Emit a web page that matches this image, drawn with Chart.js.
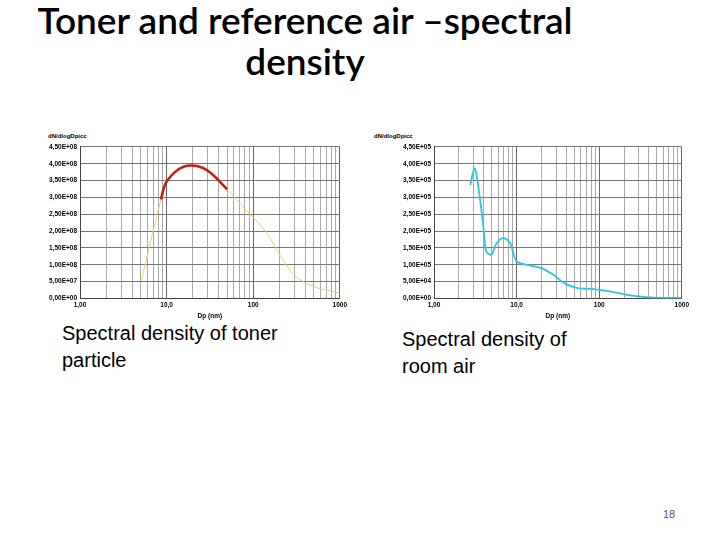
<!DOCTYPE html>
<html><head>
<script src="https://cdn.jsdelivr.net/npm/chart.js@4"></script>
<style>
body{margin:0;width:720px;height:540px;background:#fff;position:relative;overflow:hidden;font-family:"Liberation Sans",Arial,sans-serif}
.t{position:absolute;white-space:nowrap}
#title{left:0;width:610px;top:-1px;text-align:center;font-family:Lato,"Open Sans",sans-serif;font-size:37px;line-height:41px;font-weight:600}
canvas{position:absolute}
.cap{font-size:20px;line-height:27px}
.yt{font-size:6px;font-weight:bold}
</style></head><body>
<div id="title" class="t">Toner and reference air –spectral<br>density</div>
<div class="t yt" style="left:48px;top:133px">dN/dlogDpicc</div>
<div class="t yt" style="left:374px;top:133px">dN/dlogDpicc</div>
<div style="position:absolute;left:46px;top:140px;width:304px;height:180px"><canvas id="c1"></canvas></div>
<div style="position:absolute;left:400px;top:140px;width:292px;height:180px"><canvas id="c2"></canvas></div>
<div class="t cap" style="left:62px;top:320px">Spectral density of toner<br>particle</div>
<div class="t cap" style="left:402px;top:326px">Spectral density of<br>room air</div>
<div class="t" style="left:663px;top:508px;font-size:11px;color:#555">18</div>
<script>
const tonerDp = [5.1, 8.6, 9.8, 14, 19, 26, 34, 50, 81, 138, 278, 473, 1000];
const tonerN = [0.52e8, 2.94e8, 3.43e8, 3.85e8, 3.95e8, 3.88e8, 3.68e8, 3.24e8, 2.65e8, 2.0e8, 0.77e8, 0.37e8, 0.16e8];
const fitDp = [8.6, 9.8, 14, 19, 26, 34, 50];
const fitN = [2.94e8, 3.43e8, 3.85e8, 3.95e8, 3.88e8, 3.68e8, 3.24e8];
const airDp = [2.74, 3.12, 3.6, 3.94, 4.3, 4.97, 5.7, 6.9, 8.4, 10, 14.5, 20.2, 27.9, 38.6, 56, 81, 157, 250, 460, 1000];
const airN = [3.37e5, 3.86e5, 2.96e5, 2.17e5, 1.39e5, 1.30e5, 1.63e5, 1.80e5, 1.63e5, 1.10e5, 0.98e5, 0.90e5, 0.70e5, 0.44e5, 0.30e5, 0.28e5, 0.18e5, 0.08e5, 0.02e5, 0.01e5];
const xLabels = {1: "1,00", 10: "10,0", 100: "100", 1000: "1000"};

function pts(xs, ys) { return xs.map((x, i) => ({x: x, y: ys[i]})); }
function yLabel(v) {
  const e = Math.floor(Math.log10(v));
  const m = v / Math.pow(10, e);
  return m.toFixed(2).replace(".", ",") + "E+" + String(e).padStart(2, "0");
}
function makeChart(id, datasets, yStep) {
  new Chart(document.getElementById(id), {
    type: "line",
    data: {datasets: datasets},
    options: {
      animation: false, responsive: true, maintainAspectRatio: false,
      plugins: {legend: {display: false}, tooltip: {enabled: false}},
      elements: {point: {radius: 0}, line: {tension: 0.3}},
      scales: {
        x: {
          type: "logarithmic", min: 1, max: 1000,
          afterBuildTicks: ax => {
            const t = [];
            for (let d = 1; d < 1000; d *= 10) for (let k = 1; k < 10; k++) t.push({value: d * k});
            t.push({value: 1000});
            ax.ticks = t;
          },
          ticks: {autoSkip: false, maxRotation: 0, font: {size: 6.5, weight: "bold"}, color: "#000",
            callback: v => xLabels[v] || ""},
          grid: {color: ctx => xLabels[ctx.tick && ctx.tick.value] ? "#666" : "#aaa", drawTicks: false},
          border: {color: "#444"},
          title: {display: true, text: "Dp (nm)", font: {size: 6.5, weight: "bold"}, padding: 0, color: "#000"}
        },
        y: {
          min: 0, max: yStep * 9,
          ticks: {stepSize: yStep, font: {size: 6.5, weight: "bold"}, color: "#000",
            callback: v => v === 0 ? "0,00E+00" : yLabel(v)},
          grid: {color: "#777", drawTicks: false},
          border: {color: "#444"}
        }
      }
    }
  });
}
makeChart("c1", [
  {data: pts(fitDp, fitN), borderColor: "#cc1a10", borderWidth: 2.5},
  {data: pts(tonerDp, tonerN), borderColor: "#e8cf6a", borderWidth: 1}
], 0.5e8);
makeChart("c2", [
  {data: pts(airDp, airN), borderColor: "#2ec4dc", borderWidth: 1.8}
], 0.5e5);
</script>
</body></html>
